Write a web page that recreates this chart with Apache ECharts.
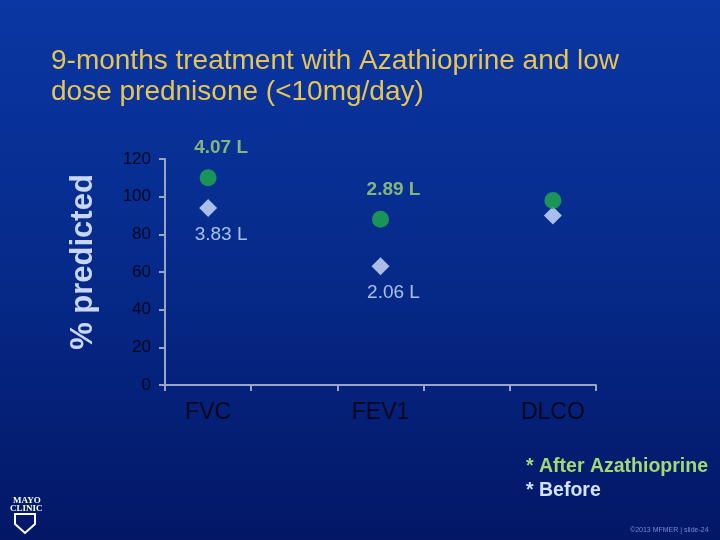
<!DOCTYPE html>
<html><head><meta charset="utf-8">
<script src="https://cdn.jsdelivr.net/npm/echarts@6/dist/echarts.min.js"></script>
<style>html,body{margin:0;padding:0;background:#0a2a90}#c{width:720px;height:540px}</style>
</head><body><div id="c"></div>
<script>
const categories = ['FVC', 'FEV1', 'DLCO'];
const afterValues = [110, 88, 98];
const beforeValues = [94, 63, 90];
const afterVolumes = ['4.07 L', '2.89 L', ''];
const beforeVolumes = ['3.83 L', '2.06 L', ''];
const yTicks = [0, 20, 40, 60, 80, 100, 120];

// 5 slots: categories on slots 0,2,4, blank slots between
const axisCats = [];
categories.forEach((c, i) => { if (i > 0) axisCats.push(''); axisCats.push(c); });
const slotOf = i => i * 2;

const chart = echarts.init(document.getElementById('c'));
chart.setOption({
  backgroundColor: new echarts.graphic.LinearGradient(0, 0, 0, 1, [
    {offset: 0, color: '#0a37a3'}, {offset: 0.5, color: '#062a8a'}, {offset: 1, color: '#031766'}]),
  animation: false,
  title: {
    text: '9-months treatment with Azathioprine and low\ndose prednisone (<10mg/day)',
    left: 46, top: 41,
    textStyle: {color: '#e8c452', fontSize: 28, fontWeight: 'normal', fontFamily: 'Liberation Sans, Arial', lineHeight: 31}
  },
  grid: {left: 165, right: 124, top: 159, bottom: 155},
  xAxis: {
    type: 'category', data: axisCats, boundaryGap: true,
    axisLine: {lineStyle: {color: '#9aa4c4', width: 2}},
    axisTick: {show: true, length: 6, lineStyle: {color: '#9aa4c4', width: 2}},
    axisLabel: {color: '#05071e', fontSize: 23, fontFamily: 'Liberation Sans, Arial', margin: 16}
  },
  yAxis: {
    type: 'value', min: 0, max: 120, interval: 20,
    name: '% predicted', nameLocation: 'middle', nameGap: 66, nameRotate: 90,
    nameTextStyle: {color: '#c8d6f8', fontSize: 31, fontWeight: 'bold', fontFamily: 'Liberation Sans, Arial', padding: [0, 0, 0, 20]},
    splitLine: {show: false},
    axisLine: {show: true, lineStyle: {color: '#9aa4c4', width: 2}},
    axisTick: {show: true, length: 6, lineStyle: {color: '#9aa4c4', width: 2}},
    axisLabel: {color: '#05071e', fontSize: 17, fontFamily: 'Liberation Sans, Arial', margin: 14,
      formatter: v => yTicks.includes(v) ? String(v) : ''}
  },
  series: [
    {
      type: 'scatter', name: 'Before', symbol: 'diamond', symbolSize: 18,
      itemStyle: {color: '#d2e2ff'},
      data: beforeValues.map((v, i) => [slotOf(i), v]),
      label: {show: true, position: 'bottom', distance: 8, offset: [13, 0],
        formatter: p => beforeVolumes[p.dataIndex],
        color: '#d2e2ff', fontSize: 19, fontFamily: 'Liberation Sans, Arial'},
      z: 2
    },
    {
      type: 'scatter', name: 'After', symbol: 'circle', symbolSize: 17,
      itemStyle: {color: '#1fae4a'},
      data: afterValues.map((v, i) => [slotOf(i), v]),
      label: {show: true, position: 'top', distance: 12, offset: [13, 0],
        formatter: p => afterVolumes[p.dataIndex],
        color: '#a4d874', fontSize: 19, fontWeight: 'bold', fontFamily: 'Liberation Sans, Arial'},
      z: 3
    }
  ],
  graphic: [
    {type: 'text', left: 526, top: 457, style: {text: '* After Azathioprine', fill: '#a4d874', font: 'bold 19.5px Liberation Sans, Arial'}},
    {type: 'text', left: 526, top: 481, style: {text: '* Before', fill: '#d2e2ff', font: 'bold 19.5px Liberation Sans, Arial'}},
    {type: 'text', left: 630, top: 527, style: {text: '©2013 MFMER | slide-24', fill: '#7a8ad8', font: '7px Liberation Sans, Arial'}},
    {type: 'text', left: 13, top: 496, style: {text: 'MAYO', fill: '#ffffff', font: 'bold 9px Liberation Serif, serif'}},
    {type: 'text', left: 10, top: 504, style: {text: 'CLINIC', fill: '#ffffff', font: 'bold 9px Liberation Serif, serif'}},
    {type: 'polygon', shape: {points: [[15,514],[35,514],[35,524],[25,533],[15,524]]}, style: {fill: 'none', stroke: '#ffffff', lineWidth: 2}}
  ]
});
</script></body></html>
